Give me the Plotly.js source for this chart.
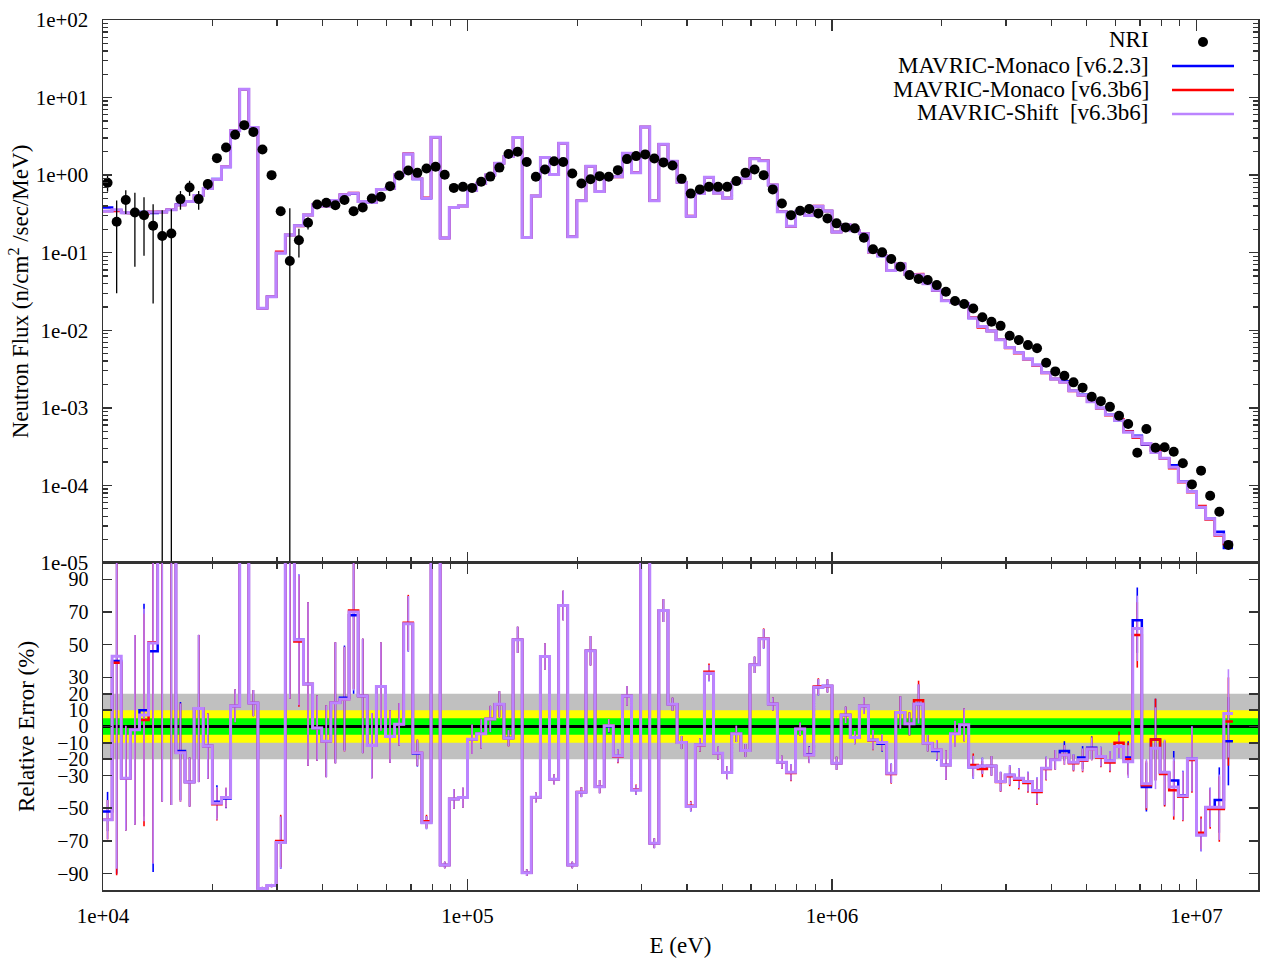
<!DOCTYPE html>
<html><head><meta charset="utf-8">
<script src="https://cdn.plot.ly/plotly-3.0.1.min.js"></script>
<style>html,body{margin:0;padding:0;background:#fff}#chart{width:1262px;height:963px}</style>
</head><body><div id="chart"></div>
<script>
// ---- DATA ----
// bin-centre energies (eV), 40 bins per decade
const energy = [
 1.0292e4,1.0901e4,1.1548e4,1.2232e4,1.2957e4,1.3725e4,1.4538e4,1.5399e4,1.6312e4,1.7278e4,
 1.8302e4,1.9387e4,2.0535e4,2.1752e4,2.3041e4,2.4406e4,2.5852e4,2.7384e4,2.9007e4,3.0726e4,
 3.2546e4,3.4475e4,3.6517e4,3.8681e4,4.0973e4,4.3401e4,4.5973e4,4.8697e4,5.1582e4,5.4639e4,
 5.7876e4,6.1306e4,6.4938e4,6.8786e4,7.2862e4,7.7179e4,8.1752e4,8.6596e4,9.1728e4,9.7163e4,
 1.0292e5,1.0901e5,1.1548e5,1.2232e5,1.2957e5,1.3725e5,1.4538e5,1.5399e5,1.6312e5,1.7278e5,
 1.8302e5,1.9387e5,2.0535e5,2.1752e5,2.3041e5,2.4406e5,2.5852e5,2.7384e5,2.9007e5,3.0726e5,
 3.2546e5,3.4475e5,3.6517e5,3.8681e5,4.0973e5,4.3401e5,4.5973e5,4.8697e5,5.1582e5,5.4639e5,
 5.7876e5,6.1306e5,6.4938e5,6.8786e5,7.2862e5,7.7179e5,8.1752e5,8.6596e5,9.1728e5,9.7163e5,
 1.0292e6,1.0901e6,1.1548e6,1.2232e6,1.2957e6,1.3725e6,1.4538e6,1.5399e6,1.6312e6,1.7278e6,
 1.8302e6,1.9387e6,2.0535e6,2.1752e6,2.3041e6,2.4406e6,2.5852e6,2.7384e6,2.9007e6,3.0726e6,
 3.2546e6,3.4475e6,3.6517e6,3.8681e6,4.0973e6,4.3401e6,4.5973e6,4.8697e6,5.1582e6,5.4639e6,
 5.7876e6,6.1306e6,6.4938e6,6.8786e6,7.2862e6,7.7179e6,8.1752e6,8.6596e6,9.1728e6,9.7163e6,
 1.0292e7,1.0901e7,1.1548e7,1.2232e7];

// NRI measured flux (n/cm2/sec/MeV)
const nriFlux = [
 0.796,0.250,0.477,0.330,0.305,0.222,0.164,0.177,0.491,0.693,
 0.491,0.766,1.656,2.275,3.31,4.41,3.61,2.14,1.0,0.343,
 0.078,0.145,0.243,0.419,0.440,0.410,0.477,0.343,0.384,0.501,
 0.525,0.721,0.991,1.15,1.07,1.22,1.28,1.01,0.685,0.706,
 0.685,0.820,0.957,1.25,1.87,2.0,1.48,0.951,1.18,1.51,
 1.48,1.05,0.782,0.887,0.970,0.951,1.16,1.61,1.76,1.85,
 1.64,1.46,1.33,0.895,0.578,0.655,0.706,0.706,0.706,0.838,
 1.07,1.18,1.0,0.655,0.431,0.305,0.347,0.365,0.321,0.277,
 0.239,0.212,0.206,0.156,0.111,0.101,0.0828,0.0658,0.0514,0.0457,
 0.0444,0.0382,0.0313,0.0238,0.0218,0.0191,0.0147,0.0129,0.0114,0.00849,
 0.00748,0.00644,0.00585,0.00381,0.00295,0.00259,0.00213,0.00182,0.00139,0.00122,
 0.00103,0.000791,0.000618,0.000264,0.000533,0.000306,0.00031,0.000272,0.000193,0.000103,
 0.000155,0.0000736,0.0000458,0.0000171];

// NRI uncertainty (% of value)
const nriErrPct = [
 23,88,34,80,70,90,115,105,27,22,
 27,16,5,5,5,5,5,5,5,5,
 380,40,18,5,5,5,5,5,5,5,
 5,5,5,5,5,5,5,5,5,5,
 5,5,5,5,5,5,5,5,5,5,
 5,5,5,5,5,5,5,5,5,5,
 5,5,5,5,5,5,5,5,5,5,
 5,5,5,5,5,5,5,5,5,5,
 5,5,5,5,5,5,5,5,5,5,
 5,5,5,5,5,5,5,5,5,5,
 5,5,5,5,5,5,5,5,5,5,
 5,5,5,6,6,6,6,6,6,7,
 7,7,8,10];

// Relative error (C/E-1, %) : MAVRIC-Shift [v6.3b6]
const relShift = [
 -57,43,-31.6,-2,7,51,104,102,-16,-34,
 11,-12,-47,-43.5,12.6,190,14.3,-99.1,-97.3,-71,
 117,53,26,-1,-9,14.5,16.7,70,18.7,-11.7,
 24.4,-6.2,1.4,62.8,-16,-58.8,140,-84.7,-44.3,-43.5,
 -7.8,-4.5,4.6,13.6,-7.2,53,-89.4,-43.3,42.8,-32.3,
 74,-84.7,-40.2,46.3,-36.8,0.5,-18,18.7,-38.8,125,
 -71.4,70.9,13.6,-9.8,-49,-11.3,32.6,-16.4,-28.2,-4.5,
 -14.7,37.7,53.6,13.8,-21.9,-28,-1.5,-17.4,24,24.8,
 -22.5,7.1,-6.8,12.6,-8.2,-9.8,-28.6,8.5,1.6,13.8,
 -10.2,-14.3,-23.5,-4.5,1,-24.9,-24.1,-24.1,-33.7,-29.6,
 -31.6,-33.7,-39.2,-25.5,-20.4,-17.4,-21.9,-20.4,-13.7,-18.4,
 -21,-12.3,-21.5,60,-35,-13.3,-28,-37,-42.3,-19.8,
 -66.3,-49.4,-49.4,8];

// uncertainty of the Shift relative error (%)
const relShiftErr = [
 12,130,32,58,65,135,150,150,30,15,
 45,20,10,6,10,30,8,1,1,16,
 100,40,50,20,22,37,32,48,35,20,
 27,16,13,17,8,4,30,2,6,6,
 9,9,8,8,5,8,2,3,8,3,
 9,2,3,9,4,4,4,6,3,10,
 3,7,4,4,3,4,5,4,4,5,
 4,5,6,4,4,5,4,5,5,4,
 4,5,4,5,6,5,6,10,7,12,
 5,6,9,8,10,7,5,6,6,6,
 6,6,8,7,6,6,5,7,7,6,
 6,7,10,20,15,25,20,18,15,20,
 10,12,20,27];

// Relative error (%) : MAVRIC-Monaco [v6.2.3]
const relMonaco623 = [
 -52,40,-31.6,-2,10,46,104,102,-15,-34,
 11,-12,-46,-44,12.6,190,14.3,-99.1,-97.3,-71,
 117,53,26,-1,-9,14.5,17.5,68,18.7,-11.7,
 24.4,-6.2,1.4,62.8,-16.5,-58.8,140,-84.7,-44.3,-43.5,
 -7.8,-4.5,4.6,13.6,-7,53,-89.4,-43.3,42.8,-32.3,
 74,-84.7,-40.2,46.3,-36.8,0,-18,18.7,-38.8,125,
 -71.4,70.9,13.6,-9.8,-49,-11.3,32.6,-16.4,-28.2,-4.5,
 -14.7,37.7,53.6,13.8,-21.9,-28,-1.5,-17,24,24.8,
 -22.5,7.1,-6.8,12.6,-8.2,-10.5,-28.6,8.5,1.6,13.8,
 -10.2,-15,-23.5,-4.5,1,-24.9,-24.1,-24.1,-33.7,-29.6,
 -31.6,-33.7,-39.2,-25.5,-20.4,-15,-21.9,-19,-13,-18.4,
 -21,-12.3,-19,65,-37,-8,-28.5,-33,-42,-19.8,
 -66.3,-49.4,-45,-9];

// Relative error (%) : MAVRIC-Monaco [v6.3b6]
const relMonaco63 = [
 -57,39,-31.6,-2,4,51.5,104,102,-16,-34,
 11,-12,-47.5,-43.5,12.6,190,14.3,-99.1,-97.3,-70,
 117,52,26,-1,-9,14.5,16.7,71,18.7,-11.7,
 24.4,-6.2,1.4,63.5,-16,-58,140,-84.7,-44.3,-43.5,
 -7.8,-4.5,4.6,13.6,-7.2,53,-89.4,-43.3,42.8,-32.3,
 74,-84.7,-40,46.3,-36.8,0.5,-18.5,18.7,-38.5,125,
 -71.4,70.9,13.6,-9.8,-48.5,-11.5,33.5,-16.4,-28.2,-4.5,
 -14.7,37.7,54,13.8,-21.9,-28.5,-1.5,-17.4,24.5,24.8,
 -22.5,7.1,-6.8,12.6,-8.5,-9.8,-29,8.5,1.6,16,
 -10.2,-14.3,-23.5,-4.5,1,-23.5,-26,-24.1,-34,-30.5,
 -32.5,-34.5,-40,-26,-20.4,-17.4,-22.5,-21,-13.7,-19,
 -22,-10,-20,56,-36,-8,-29,-39,-43,-20.5,
 -65,-50.5,-50.5,3];

const seriesNames = ['NRI','MAVRIC-Monaco [v6.2.3]','MAVRIC-Monaco [v6.3b6]','MAVRIC-Shift\u00a0 [v6.3b6]'];
const seriesColors = ['#000000','#0000ff','#ff0000','#bb84ff'];
const xTickVals = [1e4,1e5,1e6,1e7];
const xTickText = ['1e+04','1e+05','1e+06','1e+07'];
const yTopTickVals = [1e-5,1e-4,1e-3,1e-2,1e-1,1e0,1e1,1e2];
const yTopTickText = ['1e-05','1e-04','1e-03','1e-02','1e-01','1e+00','1e+01','1e+02'];
const yBotTickVals = [-90,-70,-50,-30,-20,-10,0,10,20,30,50,70,90];

// ---- helpers (built from the data above) ----
const n = energy.length;
const edges = [];
edges.push(energy[0] / Math.sqrt(energy[1] / energy[0]));
for (let i = 1; i < n; i++) edges.push(Math.sqrt(energy[i - 1] * energy[i]));
edges.push(energy[n - 1] * Math.sqrt(energy[n - 1] / energy[n - 2]));

function steps(vals) {
  const xs = [], ys = [];
  for (let i = 0; i < vals.length; i++) { xs.push(edges[i], edges[i + 1]); ys.push(vals[i], vals[i]); }
  return {x: xs, y: ys};
}
const fluxFromRel = rel => rel.map((r, i) => nriFlux[i] * (1 + r / 100));
const fluxMonaco623 = fluxFromRel(relMonaco623);
const fluxMonaco63 = fluxFromRel(relMonaco63);
const fluxShift = fluxFromRel(relShift);
const nriErr = nriFlux.map((v, i) => v * nriErrPct[i] / 100);

const minorX = [];
for (let d = 4; d <= 7; d++) for (let m = 2; m <= 9; m++) { const v = m * Math.pow(10, d); if (v < 1.47e7) minorX.push(v); }
const minorY = [];
for (let d = -5; d <= 1; d++) for (let m = 2; m <= 9; m++) minorY.push(m * Math.pow(10, d));

const traces = [];
const hist = [[fluxMonaco623, relMonaco623, 1, 2.5], [fluxMonaco63, relMonaco63, 2, 2.5], [fluxShift, relShift, 3, 3]];
hist.forEach(([flux, rel, k, w]) => {
  const s = steps(flux);
  traces.push({x: s.x, y: s.y, xaxis: 'x', yaxis: 'y', mode: 'lines', name: seriesNames[k], showlegend: false,
    line: {color: seriesColors[k], width: w, shape: 'linear'}, hoverinfo: 'skip'});
});
hist.forEach(([flux, rel, k, w]) => {
  traces.push({x: energy, y: rel, xaxis: 'x2', yaxis: 'y2', mode: 'markers', showlegend: false,
    marker: {size: 1, opacity: 0}, name: seriesNames[k] + ' err',
    error_y: {type: 'data', array: relShiftErr, visible: true, color: seriesColors[k], thickness: 1.6, width: 0}});
});
hist.forEach(([flux, rel, k, w]) => {
  const s = steps(rel);
  traces.push({x: s.x, y: s.y, xaxis: 'x2', yaxis: 'y2', mode: 'lines', name: seriesNames[k], showlegend: false,
    line: {color: seriesColors[k], width: w, shape: 'linear'}, hoverinfo: 'skip'});
});
traces.push({x: energy, y: nriFlux, xaxis: 'x', yaxis: 'y', mode: 'markers', name: seriesNames[0], showlegend: false,
  marker: {color: '#000', size: 10},
  error_y: {type: 'data', array: nriErr, visible: true, color: '#000', thickness: 1.3, width: 0}});

const F = 'Liberation Serif, Times New Roman, serif';
const axisBase = {showline: true, linecolor: '#333', linewidth: 1.5, mirror: 'allticks', ticks: 'inside',
  ticklen: 11, tickwidth: 1.5, tickcolor: '#333', showgrid: false, zeroline: false,
  tickfont: {family: F, size: 21, color: '#000'}};
const splitY = 0.3759;
const px = v => (v - 103) / 1155, py = v => (890 - v) / 870;

const legendRows = [[40, 0], [65, 1], [89, 2], [113, 3]];
const annotations = legendRows.map(([y, k]) => ({xref: 'paper', yref: 'paper', x: px(1151), y: py(y),
  xanchor: 'right', yanchor: 'middle', showarrow: false, text: seriesNames[k],
  font: {family: F, size: 23, color: '#000'}}));
const shapes = [
  {type: 'rect', xref: 'paper', yref: 'y2', x0: 0, x1: 1, y0: -20, y1: 20, fillcolor: '#c0c0c0', line: {width: 0}, layer: 'below'},
  {type: 'rect', xref: 'paper', yref: 'y2', x0: 0, x1: 1, y0: -10, y1: 10, fillcolor: '#ffff00', line: {width: 0}, layer: 'below'},
  {type: 'rect', xref: 'paper', yref: 'y2', x0: 0, x1: 1, y0: -5, y1: 5, fillcolor: '#00ff00', line: {width: 0}, layer: 'below'},
  {type: 'line', xref: 'paper', yref: 'y2', x0: 0, x1: 1, y0: 0, y1: 0, line: {color: '#000', width: 3}, layer: 'below'},
  {type: 'circle', xref: 'paper', yref: 'paper', x0: px(1198), x1: px(1208), y0: py(37), y1: py(47), fillcolor: '#000', line: {width: 0}},
];
[[65, 1], [89, 2], [113, 3]].forEach(([y, k]) => shapes.push({type: 'line', xref: 'paper', yref: 'paper',
  x0: px(1172), x1: px(1234), y0: py(y + 1), y1: py(y + 1), line: {color: seriesColors[k], width: 2.5}}));

const layout = {
  width: 1262, height: 963, margin: {l: 103, r: 4, t: 20, b: 73},
  paper_bgcolor: '#fff', plot_bgcolor: '#fff', showlegend: false,
  font: {family: F, size: 21, color: '#000'},
  xaxis: Object.assign({}, axisBase, {type: 'log', range: [4, 7.1687], domain: [0, 1], anchor: 'y',
    tickmode: 'array', tickvals: xTickVals, showticklabels: false,
    minor: {tickmode: 'array', tickvals: minorX, ticks: 'inside', ticklen: 6, tickwidth: 1.3, tickcolor: '#333', showgrid: false}}),
  xaxis2: Object.assign({}, axisBase, {type: 'log', range: [4, 7.1687], domain: [0, 1], anchor: 'y2',
    tickmode: 'array', tickvals: xTickVals, ticktext: xTickText, ticklabelstandoff: 6,
    minor: {tickmode: 'array', tickvals: minorX, ticks: 'inside', ticklen: 6, tickwidth: 1.3, tickcolor: '#333', showgrid: false},
    title: {text: 'E (eV)', font: {family: F, size: 23}, standoff: 10}}),
  yaxis: Object.assign({}, axisBase, {type: 'log', range: [-5, 2], domain: [splitY, 1], anchor: 'x',
    tickmode: 'array', tickvals: yTopTickVals, ticktext: yTopTickText, ticklen: 9, ticklabelstandoff: 9,
    minor: {tickmode: 'array', tickvals: minorY, ticks: 'inside', ticklen: 5, tickwidth: 1.3, tickcolor: '#333', showgrid: false},
    title: {text: 'Neutron Flux (n/cm<sup>2</sup> /sec/MeV)', font: {family: F, size: 23}, standoff: 0}}),
  yaxis2: Object.assign({}, axisBase, {range: [-100, 100], domain: [0, splitY], anchor: 'x2',
    tickmode: 'array', tickvals: yBotTickVals, ticklen: 9, ticklabelstandoff: 9,
    tickfont: {family: F, size: 20, color: '#000'},
    title: {text: 'Relative Error (%)', font: {family: F, size: 23}, standoff: 16}}),
  shapes: shapes, annotations: annotations
};
Plotly.newPlot('chart', traces, layout, {displayModeBar: false, staticPlot: true});
</script></body></html>
